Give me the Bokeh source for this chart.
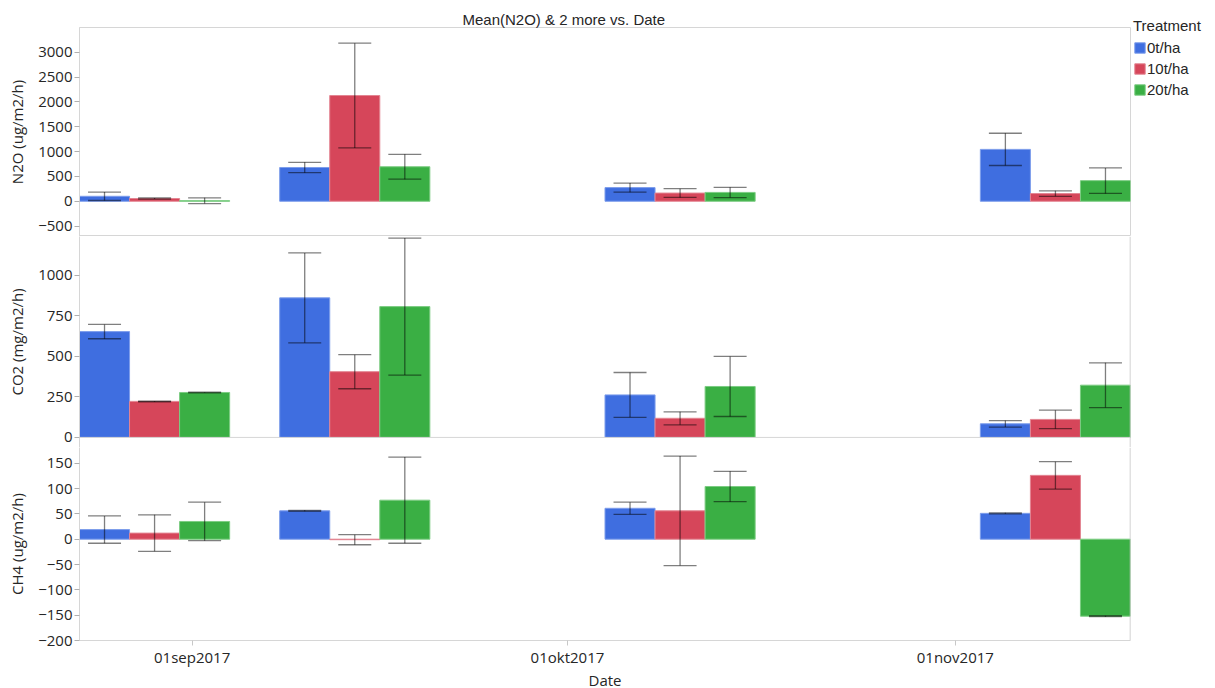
import pandas as pd
from bokeh.plotting import figure
from bokeh.models import (ColumnDataSource, Whisker, TeeHead, FixedTicker,
                          Legend, LegendItem, Range1d, Span)
from bokeh.layouts import column
from bokeh.embed import file_html
from bokeh.resources import INLINE

# ---------------- data ----------------
treatments = ["0t/ha", "10t/ha", "20t/ha"]
dates = ["2017-08-29", "2017-09-14", "2017-10-10", "2017-11-09"]
x_tick_dates = ["2017-09-01", "2017-10-01", "2017-11-01"]
x_tick_labels = ["01sep2017", "01okt2017", "01nov2017"]

n2o_0t = [100, 680, 275, 1045]
n2o_10t = [55, 2130, 165, 155]
n2o_20t = [12, 695, 178, 415]
n2o_err_0t = [85, 105, 92, 325]
n2o_err_10t = [12, 1055, 88, 55]
n2o_err_20t = [58, 250, 103, 257]

co2_0t = [652, 860, 262, 84]
co2_10t = [222, 405, 118, 111]
co2_20t = [277, 806, 314, 322]
co2_err_0t = [44, 277, 138, 20]
co2_err_10t = [2, 105, 40, 57]
co2_err_20t = [2, 422, 185, 138]

ch4_0t = [19, 56, 61, 51]
ch4_10t = [12, -1, 56, 126]
ch4_20t = [35, 77, 104, -152]
ch4_err_0t = [27, 1, 12, 1]
ch4_err_10t = [36, 10, 108, 27]
ch4_err_20t = [38, 85, 30, 1]

n2o_ticks = [-500, 0, 500, 1000, 1500, 2000, 2500, 3000]
co2_ticks = [0, 250, 500, 750, 1000]
ch4_ticks = [-200, -150, -100, -50, 0, 50, 100, 150]

# ---------------- style ----------------
fill_colors = ["#3f6ee0", "#d6465a", "#3aaf44"]
edge_colors = ["#7d9deb", "#e38592", "#7ccc82"]
BORDER = "#d6d6d6"
TICK_FONT = "Open Sans"
TXT_FONT = "Liberation Sans"
origin = pd.Timestamp("2017-09-01")
day_x = [(pd.Timestamp(d) - origin).days for d in dates]
tick_x = [(pd.Timestamp(d) - origin).days for d in x_tick_dates]
bar_w = 4
offsets = [-bar_w, 0, bar_w]
x_range = Range1d(day_x[0] - 1.5 * bar_w, day_x[-1] + 1.5 * bar_w)

# (label, means, errors, y range, ticks, frame height, outline, baseline separator)
panels = [
    ("N2O (ug/m2/h)", [n2o_0t, n2o_10t, n2o_20t],
     [n2o_err_0t, n2o_err_10t, n2o_err_20t], (-710, 3500), n2o_ticks, 209, True, False),
    ("CO2 (mg/m2/h)", [co2_0t, co2_10t, co2_20t],
     [co2_err_0t, co2_err_10t, co2_err_20t], (-62, 1238), co2_ticks, 211, False, True),
    ("CH4 (ug/m2/h)", [ch4_0t, ch4_10t, ch4_20t],
     [ch4_err_0t, ch4_err_10t, ch4_err_20t], (-200, 181), ch4_ticks, 193, False, False),
]

ERR_ALPHA = 0.5
figs = []
legend_renderers = []
for i, (ylab, means, errs, yr, yt, fh, outline, base_sep) in enumerate(panels):
    last = i == len(panels) - 1
    p = figure(frame_width=1051, frame_height=fh, x_range=x_range,
               y_range=Range1d(*yr), output_backend="svg", toolbar_location=None,
               x_axis_location="below" if last else None,
               min_border_left=79, min_border_right=84,
               min_border_top=0, min_border_bottom=0)
    p.grid.visible = False
    p.outline_line_color = BORDER if outline else None
    p.background_fill_color = "white"
    p.border_fill_color = "white"
    if not outline:
        p.add_layout(Span(location=x_range.end, dimension="height",
                          line_color="#c4c4c4", line_width=1.5))
    if base_sep:
        p.add_layout(Span(location=0, dimension="width", line_color=BORDER, line_width=1))
    for k in range(3):
        xs = [d + offsets[k] for d in day_x]
        src = ColumnDataSource(dict(x=xs, top=means[k],
                                    upper=[m + e for m, e in zip(means[k], errs[k])],
                                    lower=[m - e for m, e in zip(means[k], errs[k])]))
        r = p.vbar(x="x", top="top", bottom=0, width=bar_w, source=src,
                   fill_color=fill_colors[k], line_color=edge_colors[k], line_width=1)
        if i == 0:
            legend_renderers.append(r)
        w = Whisker(source=src, base="x", upper="upper", lower="lower", level="overlay",
                    line_color="black", line_alpha=ERR_ALPHA, line_width=1.3,
                    upper_head=TeeHead(size=33, line_color="black", line_alpha=ERR_ALPHA, line_width=1.3),
                    lower_head=TeeHead(size=33, line_color="black", line_alpha=ERR_ALPHA, line_width=1.3))
        p.add_layout(w)
    ax = p.yaxis[0]
    ax.ticker = FixedTicker(ticks=yt)
    ax.minor_tick_line_color = None
    ax.major_tick_out = 5
    ax.major_tick_in = 0
    ax.major_tick_line_color = "#b0b0b0"
    ax.axis_line_color = BORDER
    ax.major_label_text_font = TICK_FONT
    ax.major_label_text_font_size = "15px"
    ax.major_label_text_color = "#262626"
    ax.major_label_standoff = 2
    ax.axis_label = ylab
    ax.axis_label_text_font = TICK_FONT
    ax.axis_label_text_font_size = "15px"
    ax.axis_label_text_font_style = "normal"
    ax.axis_label_text_color = "#262626"
    ax.axis_label_standoff = 8
    if last:
        xa = p.xaxis[0]
        xa.ticker = FixedTicker(ticks=tick_x)
        xa.major_label_overrides = {t: l for t, l in zip(tick_x, x_tick_labels)}
        xa.minor_tick_line_color = None
        xa.major_tick_out = 5
        xa.major_tick_in = 0
        xa.major_tick_line_color = "#c8c8c8"
        xa.axis_line_color = BORDER
        xa.major_label_text_font = TICK_FONT
        xa.major_label_text_font_size = "15px"
        xa.major_label_text_color = "#262626"
        xa.major_label_standoff = 1
        xa.axis_label = "Date"
        xa.axis_label_text_font = TICK_FONT
        xa.axis_label_text_font_size = "15px"
        xa.axis_label_text_font_style = "normal"
        xa.axis_label_text_color = "#262626"
        xa.axis_label_standoff = 0
    figs.append(p)

p1 = figs[0]
p1.title.text = "Mean(N2O) & 2 more vs. Date"
p1.title.text_font = TXT_FONT
p1.title.text_font_size = "15px"
p1.title.text_font_style = "normal"
p1.title.text_color = "#262626"
p1.title.align = "left"
p1.title.offset = 383
p1.title.standoff = 0
p1.min_border_top = 27

legend = Legend(items=[LegendItem(label=t, renderers=[r]) for t, r in zip(treatments, legend_renderers)],
                location=(3, 137), title="Treatment",
                title_text_font=TXT_FONT, title_text_font_size="15px",
                title_text_font_style="normal", title_text_color="#262626",
                title_standoff=3,
                label_text_font=TXT_FONT, label_text_font_size="15px",
                label_text_color="#262626", label_standoff=1,
                glyph_width=13, glyph_height=13, label_height=20, spacing=1,
                padding=0, margin=0, background_fill_alpha=0, border_line_alpha=0)
p1.add_layout(legend, "right")

layout = column(*figs, spacing=0)
open("out.html", "w").write(file_html(layout, INLINE))
